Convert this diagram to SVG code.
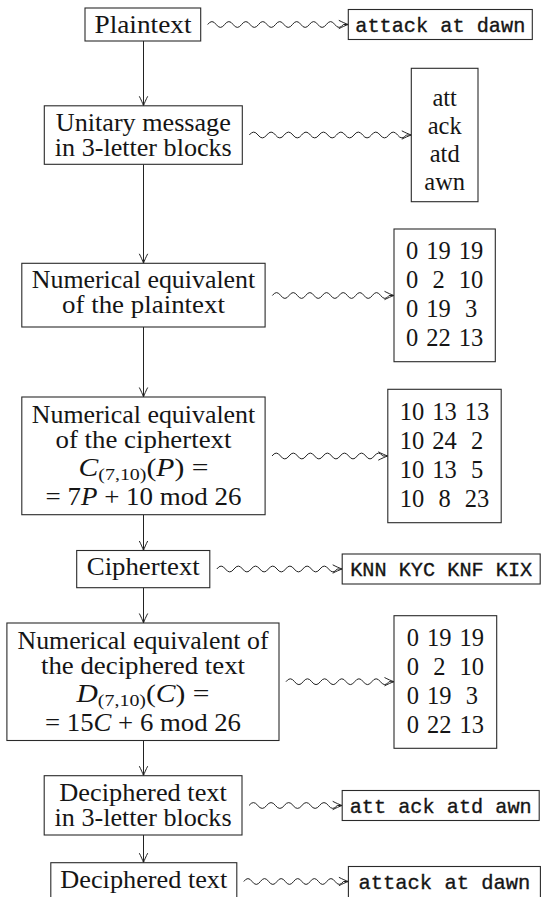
<svg xmlns="http://www.w3.org/2000/svg" width="542" height="897" viewBox="0 0 542 897">
  <defs>
    <!-- open curved "to" arrow tip, shared by every connector -->
    <marker id="tip" markerUnits="userSpaceOnUse" orient="auto" markerWidth="12" markerHeight="12" refX="0" refY="0" overflow="visible">
      <path d="M-9.5,-4.2 C-6.5,-2.6 -2.5,-0.8 0,0 M-9.5,4.2 C-6.5,2.6 -2.5,0.8 0,0" fill="none" stroke="#222" stroke-width="1"/>
    </marker>
    <style>
      .box{fill:#fff;stroke:#2a2a2a;stroke-width:1.1}
      .t{font-family:'Liberation Serif',Tinos,'DejaVu Serif',serif;font-size:24.5px;fill:#151515;text-anchor:middle}
      .tt{font-family:'Liberation Mono',Cousine,'DejaVu Sans Mono',monospace;font-size:21px;fill:#151515;stroke:#151515;stroke-width:0.35;text-anchor:middle}
      .i{font-style:italic}
      .edge{fill:none;stroke:#222;stroke-width:1;marker-end:url(#tip)}
    </style>
  </defs>

  <!-- connectors -->
  <g id="connectors">
    <!-- main chain -->
    <path class="edge" d="M143.5,41 V105.8"/>
    <path class="edge" d="M143.5,164.3 V263.3"/>
    <path class="edge" d="M143.5,327 V397"/>
    <path class="edge" d="M143.5,514.7 V550.5"/>
    <path class="edge" d="M143.5,587.7 V623"/>
    <path class="edge" d="M143.5,740.5 V775.7"/>
    <path class="edge" d="M143.5,835 V862.7"/>
    <!-- snake arrows to the example values -->
    <path class="edge" d="M207.7,24.5 q4.24,-5.8 8.475,0 t8.475,0 t8.475,0 t8.475,0 t8.475,0 t8.475,0 t8.475,0 t8.475,0 t8.475,0 t8.475,0 t8.475,0 t8.475,0 t8.475,0 t8.475,0 t8.475,0 t8.475,0 L348.3,24.5"/>
    <path class="edge" d="M249.3,135 q4.36,-5.8 8.722,0 t8.722,0 t8.722,0 t8.722,0 t8.722,0 t8.722,0 t8.722,0 t8.722,0 t8.722,0 t8.722,0 t8.722,0 t8.722,0 t8.722,0 t8.722,0 t8.722,0 t8.722,0 t8.722,0 t8.722,0 L411.3,135"/>
    <path class="edge" d="M272.4,295.5 q4.16,-5.8 8.329,0 t8.329,0 t8.329,0 t8.329,0 t8.329,0 t8.329,0 t8.329,0 t8.329,0 t8.329,0 t8.329,0 t8.329,0 t8.329,0 t8.329,0 t8.329,0 L394,295.5"/>
    <path class="edge" d="M272,456 q4.26,-5.8 8.523,0 t8.523,0 t8.523,0 t8.523,0 t8.523,0 t8.523,0 t8.523,0 t8.523,0 t8.523,0 t8.523,0 t8.523,0 t8.523,0 t8.523,0 L387.8,456"/>
    <path class="edge" d="M216.8,569 q4.3,-5.8 8.6,0 t8.6,0 t8.6,0 t8.6,0 t8.6,0 t8.6,0 t8.6,0 t8.6,0 t8.6,0 t8.6,0 t8.6,0 t8.6,0 t8.6,0 t8.6,0 L342.2,569"/>
    <path class="edge" d="M286,681.7 q4.29,-5.8 8.583,0 t8.583,0 t8.583,0 t8.583,0 t8.583,0 t8.583,0 t8.583,0 t8.583,0 t8.583,0 t8.583,0 t8.583,0 t8.583,0 L394,681.7"/>
    <path class="edge" d="M249,805.5 q4.41,-5.8 8.82,0 t8.82,0 t8.82,0 t8.82,0 t8.82,0 t8.82,0 t8.82,0 t8.82,0 t8.82,0 t8.82,0 L342.2,805.5"/>
    <path class="edge" d="M243.8,881.5 q4.15,-5.8 8.3,0 t8.3,0 t8.3,0 t8.3,0 t8.3,0 t8.3,0 t8.3,0 t8.3,0 t8.3,0 t8.3,0 t8.3,0 t8.3,0 L348.4,881.5"/>
  </g>

  <!-- main chain of stages -->
  <g id="plaintext">
    <rect class="box" x="85" y="8" width="115.7" height="33"/>
    <text class="t" x="143" y="33" textLength="97" lengthAdjust="spacingAndGlyphs">Plaintext</text>
  </g>
  <g id="unitary">
    <rect class="box" x="44.3" y="105.8" width="198" height="58.5"/>
    <text class="t" x="143.3" y="130.5" textLength="175" lengthAdjust="spacingAndGlyphs">Unitary message</text>
    <text class="t" x="143.3" y="156" textLength="177" lengthAdjust="spacingAndGlyphs">in 3-letter blocks</text>
  </g>
  <g id="num-plain">
    <rect class="box" x="21.8" y="263.3" width="243.3" height="63.7"/>
    <text class="t" x="143.5" y="288.3" textLength="223.5" lengthAdjust="spacingAndGlyphs">Numerical equivalent</text>
    <text class="t" x="143.5" y="313.3" textLength="163" lengthAdjust="spacingAndGlyphs">of the plaintext</text>
  </g>
  <g id="num-cipher">
    <rect class="box" x="21.8" y="397" width="243.3" height="117.7"/>
    <text class="t" x="143.5" y="422.5" textLength="223.5" lengthAdjust="spacingAndGlyphs">Numerical equivalent</text>
    <text class="t" x="143.5" y="448" textLength="176" lengthAdjust="spacingAndGlyphs">of the ciphertext</text>
    <text class="t" x="143.5" y="475.5" textLength="130" lengthAdjust="spacingAndGlyphs"><tspan class="i">C</tspan><tspan font-size="16.5" dy="4.5">(7,10)</tspan><tspan dy="-4.5">(</tspan><tspan class="i">P</tspan>) =</text>
    <text class="t" x="143.5" y="505" textLength="196" lengthAdjust="spacingAndGlyphs">= 7<tspan class="i">P</tspan> + 10 mod 26</text>
  </g>
  <g id="ciphertext">
    <rect class="box" x="76.7" y="550.5" width="133.1" height="37.2"/>
    <text class="t" x="143.3" y="575" textLength="113" lengthAdjust="spacingAndGlyphs">Ciphertext</text>
  </g>
  <g id="num-deciphered">
    <rect class="box" x="6.9" y="623" width="272.1" height="117.5"/>
    <text class="t" x="143" y="648.5" textLength="251" lengthAdjust="spacingAndGlyphs">Numerical equivalent of</text>
    <text class="t" x="143" y="674" textLength="204" lengthAdjust="spacingAndGlyphs">the deciphered text</text>
    <text class="t" x="143" y="701.5" textLength="133" lengthAdjust="spacingAndGlyphs"><tspan class="i">D</tspan><tspan font-size="16.5" dy="4.5">(7,10)</tspan><tspan dy="-4.5">(</tspan><tspan class="i">C</tspan>) =</text>
    <text class="t" x="143" y="731" textLength="196" lengthAdjust="spacingAndGlyphs">= 15<tspan class="i">C</tspan> + 6 mod 26</text>
  </g>
  <g id="deciphered-blocks">
    <rect class="box" x="44.2" y="775.7" width="197.8" height="59.3"/>
    <text class="t" x="143.1" y="800.7" textLength="167.5" lengthAdjust="spacingAndGlyphs">Deciphered text</text>
    <text class="t" x="143.1" y="826" textLength="177" lengthAdjust="spacingAndGlyphs">in 3-letter blocks</text>
  </g>
  <g id="deciphered">
    <rect class="box" x="50.8" y="862.7" width="186" height="40"/>
    <text class="t" x="143.8" y="887.5" textLength="167" lengthAdjust="spacingAndGlyphs">Deciphered text</text>
  </g>

  <!-- example values -->
  <g id="ex-plaintext">
    <rect class="box" x="348.3" y="9.5" width="184" height="30"/>
    <text class="tt" x="440.3" y="31.5" textLength="170" lengthAdjust="spacingAndGlyphs">attack at dawn</text>
  </g>
  <g id="ex-blocks">
    <rect class="box" x="411.3" y="68.3" width="66.7" height="133.4"/>
    <text class="t" x="444.7" y="105.7">att</text>
    <text class="t" x="444.7" y="134">ack</text>
    <text class="t" x="444.7" y="162.3">atd</text>
    <text class="t" x="444.7" y="190">awn</text>
  </g>
  <g id="ex-num-plain">
    <rect class="box" x="394" y="229" width="101.3" height="132.7"/>
    <text class="t" y="259"><tspan x="412.1">0</tspan><tspan x="438.6">19</tspan><tspan x="471.1">19</tspan></text>
    <text class="t" y="288"><tspan x="412.1">0</tspan><tspan x="438.6">2</tspan><tspan x="471.1">10</tspan></text>
    <text class="t" y="317"><tspan x="412.1">0</tspan><tspan x="438.6">19</tspan><tspan x="471.1">3</tspan></text>
    <text class="t" y="346"><tspan x="412.1">0</tspan><tspan x="438.6">22</tspan><tspan x="471.1">13</tspan></text>
  </g>
  <g id="ex-num-cipher">
    <rect class="box" x="387.8" y="389.3" width="113.4" height="133.4"/>
    <text class="t" y="419.5"><tspan x="412">10</tspan><tspan x="444.5">13</tspan><tspan x="477">13</tspan></text>
    <text class="t" y="448.5"><tspan x="412">10</tspan><tspan x="444.5">24</tspan><tspan x="477">2</tspan></text>
    <text class="t" y="477.5"><tspan x="412">10</tspan><tspan x="444.5">13</tspan><tspan x="477">5</tspan></text>
    <text class="t" y="506.5"><tspan x="412">10</tspan><tspan x="444.5">8</tspan><tspan x="477">23</tspan></text>
  </g>
  <g id="ex-ciphertext">
    <rect class="box" x="342.2" y="554" width="198" height="30"/>
    <text class="tt" x="441.2" y="576" textLength="182" lengthAdjust="spacingAndGlyphs">KNN KYC KNF KIX</text>
  </g>
  <g id="ex-num-deciphered">
    <rect class="box" x="394" y="615.7" width="102.7" height="132.6"/>
    <text class="t" y="646"><tspan x="412.8">0</tspan><tspan x="439.3">19</tspan><tspan x="471.8">19</tspan></text>
    <text class="t" y="675"><tspan x="412.8">0</tspan><tspan x="439.3">2</tspan><tspan x="471.8">10</tspan></text>
    <text class="t" y="704"><tspan x="412.8">0</tspan><tspan x="439.3">19</tspan><tspan x="471.8">3</tspan></text>
    <text class="t" y="733"><tspan x="412.8">0</tspan><tspan x="439.3">22</tspan><tspan x="471.8">13</tspan></text>
  </g>
  <g id="ex-deciphered-blocks">
    <rect class="box" x="342.2" y="790.5" width="197" height="30"/>
    <text class="tt" x="440.7" y="812.5" textLength="182" lengthAdjust="spacingAndGlyphs">att ack atd awn</text>
  </g>
  <g id="ex-deciphered">
    <rect class="box" x="348.4" y="866.5" width="192" height="33"/>
    <text class="tt" x="444.4" y="888.5" textLength="172" lengthAdjust="spacingAndGlyphs">attack at dawn</text>
  </g>
</svg>
